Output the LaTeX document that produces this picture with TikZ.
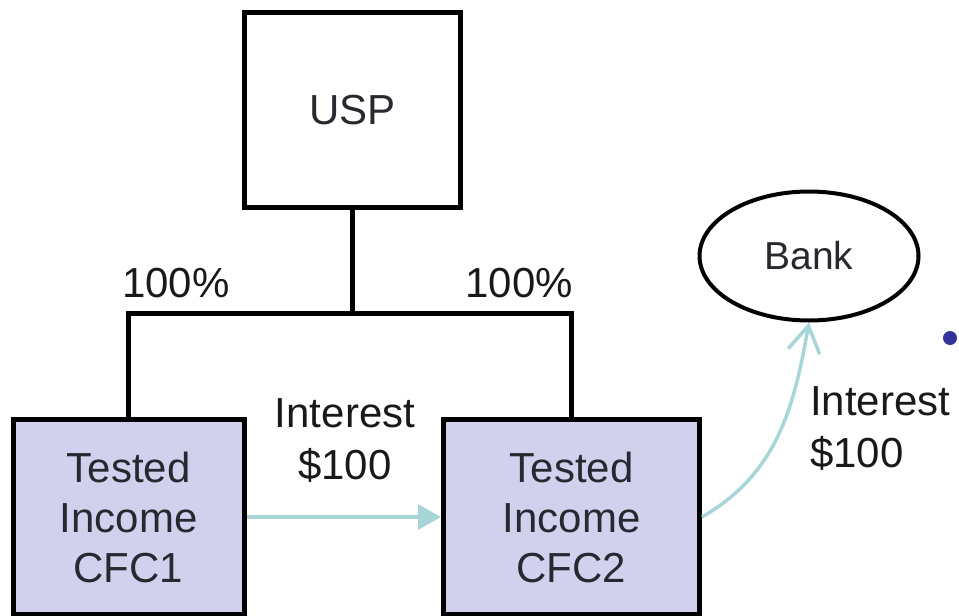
\documentclass[tikz,border=0pt]{standalone}
\usepackage{fontspec}
\setmainfont{Liberation Sans}
\usepackage{tikz}
\usetikzlibrary{positioning,shapes.geometric,arrows.meta}
\definecolor{cfcfill}{RGB}{209,209,238}
\definecolor{flowcol}{RGB}{168,214,216}
\definecolor{txtcol}{RGB}{40,40,48}
\definecolor{dotcol}{RGB}{51,51,153}

\begin{document}
\begin{tikzpicture}[x=1pt,y=-1pt,inner sep=0pt,
	entity/.style={draw,line width=5pt,minimum height=195pt,align=center,text=txtcol,font=\fontsize{42}{50}\selectfont},
	tree/.style={line width=5pt},
	lbl/.style={align=left,text=black!90,font=\fontsize{42}{52}\selectfont},
	flow/.style={draw=flowcol,line width=3.5pt}]
	\useasboundingbox (0,0) rectangle (959,616);
	\node [entity,minimum width=216pt] (usp) at (352.5,110) {USP};
	\node [entity,fill=cfcfill,minimum width=231pt] (cfc1) at (128.5,517) {Tested\\Income\\CFC1};
	\node [entity,fill=cfcfill,minimum width=256pt] (cfc2) at (571.5,517) {Tested\\Income\\CFC2};
	\node [draw,ellipse,line width=4pt,minimum width=219pt,minimum height=129pt,text=txtcol,font=\fontsize{39}{46}\selectfont] (bank) at (809,256) {Bank};
	\coordinate (fork) at (352.5,313.5);
	\draw [tree] (usp.south) -- (fork);
	\draw [tree] (cfc1.north) |- (fork) -| (cfc2.north);
	\node [lbl,anchor=base west] (ownA) at (122,297) {100\%};
	\node [lbl,anchor=base east] (ownB) at (573,297) {100\%};
	\draw [flow,-{Triangle[length=23pt,width=25pt,fill=flowcol]}] (cfc1.east) -- (cfc2.west);
	\draw [flow,-{Straight Barb[length=26pt,width=32pt]}] (cfc2.east) to [out=30,in=-100] (bank.south);
	\node [lbl,align=center,anchor=north] (intA) at (345,398) {Interest\\\$100};
	\node [lbl,anchor=north west] (intB) at (810,386) {Interest\\\$100};
	\fill [dotcol] (950,338) circle (7pt);
\end{tikzpicture}
\end{document}
